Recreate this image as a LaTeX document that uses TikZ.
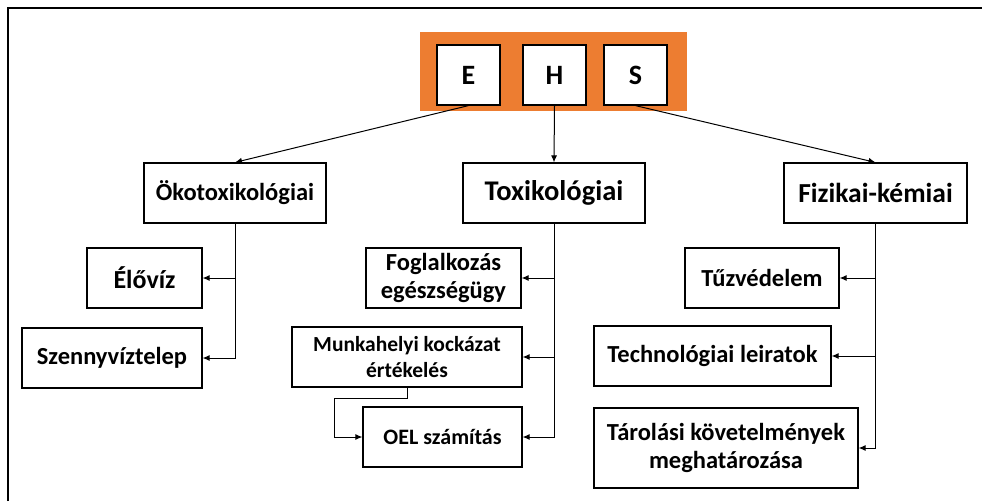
\documentclass[tikz,border=0pt]{standalone}
\usepackage{fontspec}
\setmainfont{Carlito}
\usetikzlibrary{arrows.meta}
\definecolor{ehsorange}{HTML}{ED7D31}
\tikzset{>={Latex[length=7pt,width=6pt]}}
\tikzset{
    fs/.style={font=\bfseries\fontsize{#1}{28}\selectfont},
    box/.style={draw, line width=1.2pt, fill=white, inner sep=0pt, align=center, fs=24.5},
    headbox/.style={box, minimum width=182pt, minimum height=60pt},
    letterbox/.style={box, minimum width=63pt, minimum height=60pt, fs=28},
    link/.style={line width=1pt}
}

\begin{document}
\begin{tikzpicture}[x=1pt, y=-1pt]
    \useasboundingbox (0,0) rectangle (982,501);

    % frame
    \draw [line width=2pt] (8,501) -- (8,8) -- (982,8);

    % EHS header
    \node [fill=ehsorange, minimum width=267pt, minimum height=79pt, inner sep=0pt] (ehs) at (553.5,71.5) {};
    \node [letterbox] (E) at (468.5,75) {E};
    \node [letterbox] (H) at (554.5,75) {H};
    \node [letterbox] (S) at (635.5,75) {S};

    % main groups
    \node [headbox, fs=24.5] (oko) at (235,193) {Ökotoxikológiai};
    \node [headbox, fs=28.5] (toxi) at (554,193) {Toxikológiai};
    \node [headbox, fs=27.5, minimum width=183pt] (fiz) at (875.5,193) {Fizikai-kémiai};

    % sub boxes
    \node [box, fs=26, minimum width=115pt, minimum height=60pt] (eloviz) at (144.5,278) {Élővíz};
    \node [box, minimum width=180pt, minimum height=60pt] (szenny) at (112,358) {Szennyvíztelep};

    \node [box, minimum width=155pt, minimum height=60pt] (fogl) at (443.5,278) {Foglalkozás\\egészségügy};
    \node [box, font=\bfseries\fontsize{21.5}{26}\selectfont, minimum width=230pt, minimum height=60pt] (munka) at (407,357) {Munkahelyi kockázat\\értékelés};
    \node [box, fs=22, minimum width=159pt, minimum height=60pt] (oel) at (442.5,437) {OEL számítás};

    \node [box, minimum width=154pt, minimum height=60pt] (tuz) at (762,278) {Tűzvédelem};
    \node [box, minimum width=237pt, minimum height=60pt] (techn) at (712.5,356) {Technológiai leiratok};
    \node [box, minimum width=264pt, minimum height=80pt] (tarol) at (726,448) {Tárolási követelmények\\meghatározása};

    % connectors
    \draw [link, ->] (E.south) -- (oko.north);
    \draw [link, ->] (H.south) -- (toxi.north);
    \draw [link, ->] (S.south) -- (fiz.north);

    \foreach \n in {eloviz,szenny}
        \draw [link, ->] (oko.south) |- (\n.east);
    \foreach \n in {fogl,munka,oel}
        \draw [link, ->] (toxi.south) |- (\n.east);
    \foreach \n in {tuz,techn,tarol}
        \draw [link, ->] (fiz.south) |- (\n.east);

    \draw [link, ->] (munka.south) -- ++(0,11) -| ([xshift=-28pt]oel.west) -- (oel.west);

\end{tikzpicture}
\end{document}
